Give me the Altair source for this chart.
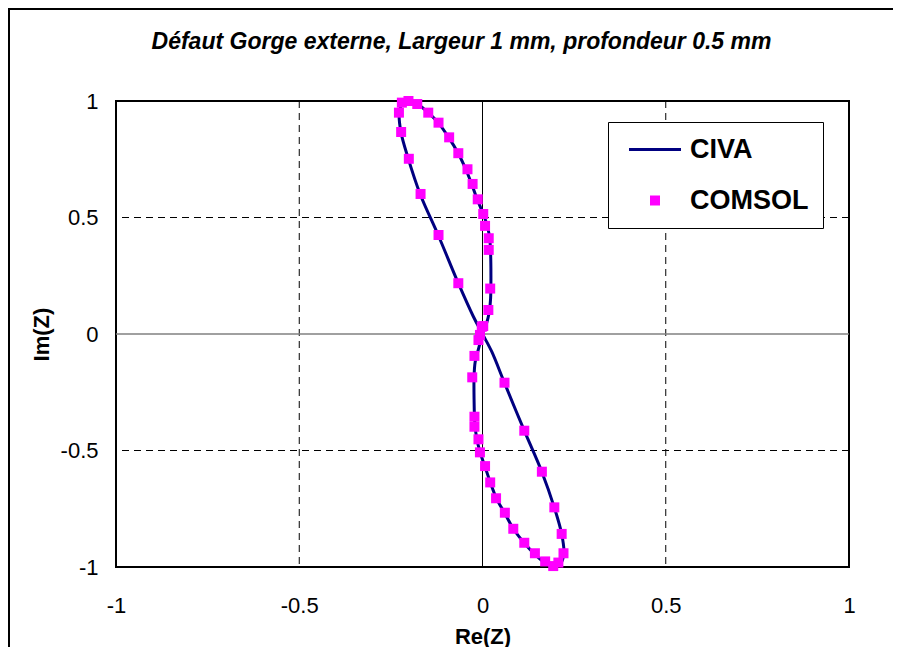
import altair as alt
import pandas as pd

# CIVA curve (ordered along the impedance loop)
civa_re = [0.000, 0.010, 0.018, 0.022, 0.023, 0.022, 0.019, 0.010, -0.002, -0.016,
           -0.030, -0.045, -0.066, -0.092, -0.120, -0.148, -0.176, -0.200, -0.218, -0.227,
           -0.223, -0.203, -0.170, -0.121, -0.066, -0.025, 0.000,
           0.025, 0.060, 0.114, 0.162, 0.196, 0.216, 0.222, 0.213, 0.194, 0.171,
           0.143, 0.114, 0.085, 0.061, 0.038, 0.022, 0.008, -0.005, -0.015, -0.021,
           -0.023, -0.023, -0.020, -0.012, 0.000]
civa_im = [0.000, 0.040, 0.090, 0.150, 0.250, 0.350, 0.420, 0.480, 0.530, 0.585,
           0.645, 0.705, 0.775, 0.843, 0.905, 0.950, 0.985, 1.000, 0.990, 0.950,
           0.870, 0.755, 0.600, 0.425, 0.218, 0.075, 0.000,
           -0.075, -0.210, -0.415, -0.592, -0.745, -0.858, -0.940, -0.985, -0.998, -0.983,
           -0.946, -0.897, -0.838, -0.770, -0.705, -0.640, -0.575, -0.515, -0.455, -0.380,
           -0.280, -0.180, -0.120, -0.070, 0.000]

# COMSOL points
comsol_re = [-0.202, -0.220, -0.178, -0.228, -0.148, -0.120, -0.222, -0.091, -0.066, -0.201,
             -0.041, -0.027, -0.169, -0.013, 0.002, 0.007, -0.120, 0.017, 0.017, -0.066,
             0.021, 0.016, 0.002, -0.007, -0.002, -0.011, -0.022, 0.060, -0.028, -0.022,
             -0.022, 0.114, -0.011, -0.007, 0.007, 0.162, 0.021, 0.037, 0.196, 0.061,
             0.084, 0.216, 0.114, 0.143, 0.221, 0.171, 0.207, 0.193]
comsol_im = [1.000, 0.993, 0.987, 0.950, 0.950, 0.907, 0.867, 0.844, 0.776, 0.752,
             0.707, 0.644, 0.601, 0.578, 0.515, 0.464, 0.425, 0.411, 0.361, 0.218,
             0.195, 0.103, 0.034, -0.004, 0.031, -0.026, -0.094, -0.209, -0.186, -0.355,
             -0.398, -0.415, -0.452, -0.508, -0.567, -0.591, -0.637, -0.705, -0.744, -0.767,
             -0.836, -0.858, -0.896, -0.941, -0.941, -0.976, -0.981, -0.996]

tick_values = [-1, -0.5, 0, 0.5, 1]
grid_values = [-0.5, 0.5]
series_names = ["CIVA", "COMSOL"]
series_colors = ["#000080", "#FF00FF"]

line_df = pd.DataFrame({"re": civa_re, "im": civa_im,
                        "i": list(range(len(civa_re))), "series": "CIVA"})
pts_df = pd.DataFrame({"re": comsol_re, "im": comsol_im, "series": "COMSOL"})
zero_df = pd.DataFrame({"v": [0]})
grid_df = pd.DataFrame({"g": grid_values})

FONT = "Liberation Sans"

xs = alt.Scale(domain=[-1, 1], nice=False, zero=False)
ys = alt.Scale(domain=[-1, 1], nice=False, zero=False)

x_axis = alt.Axis(values=tick_values, title="Re(Z)", grid=False, ticks=False, domain=False,
                  labelFont=FONT, labelFontSize=22, labelColor="black", labelPadding=28,
                  labelFlush=False, labelOverlap=False, labelExpr="'' + datum.value",
                  titleFont=FONT, titleFontSize=22, titleFontWeight="bold", titleColor="black",
                  titleBaseline="alphabetic", titleY=76)
y_axis = alt.Axis(values=tick_values, title="Im(Z)", grid=False, ticks=False, domain=False,
                  labelFont=FONT, labelFontSize=22, labelColor="black", labelPadding=18,
                  labelFlush=False, labelOverlap=False, labelExpr="'' + datum.value",
                  titleFont=FONT, titleFontSize=22, titleFontWeight="bold", titleColor="black",
                  titleBaseline="alphabetic", titleX=-68, titleY=233)

legend = alt.Legend(
    title=None, orient="none", legendX=492, legendY=21,
    fillColor="white", strokeColor="black", padding=14,
    labelFont=FONT, labelFontSize=27, labelFontWeight="bold", labelColor="black",
    symbolSize=49, symbolStrokeWidth=3, symbolOpacity=1,
    symbolOffset=19.5, labelOffset=21.5, rowPadding=23,
    symbolType=alt.ExprRef("datum.value === 'CIVA' ? 'M-7.43,0H7.43' : 'square'"),
    symbolStrokeColor=alt.ExprRef("datum.value === 'CIVA' ? '#000080' : '#FF00FF'"),
)

color = alt.Color("series:N", scale=alt.Scale(domain=series_names, range=series_colors),
                  legend=legend)

base_x = alt.X("re:Q", scale=xs, axis=x_axis)
base_y = alt.Y("im:Q", scale=ys, axis=y_axis)

vgrid = alt.Chart(grid_df).mark_rule(color="black", strokeWidth=1, strokeDash=[7, 5]).encode(
    x=alt.X("g:Q", scale=xs))
hgrid = alt.Chart(grid_df).mark_rule(color="black", strokeWidth=1, strokeDash=[7, 5]).encode(
    y=alt.Y("g:Q", scale=ys))

line = alt.Chart(line_df).mark_line(strokeWidth=3, interpolate="catmull-rom").encode(
    x=base_x, y=base_y, order="i:Q", color=color)

pts = alt.Chart(pts_df).mark_point(shape="square", filled=True, size=100, opacity=1).encode(
    x=base_x, y=base_y, color=color)

vzero = alt.Chart(zero_df).mark_rule(color="black", strokeWidth=1).encode(
    x=alt.X("v:Q", scale=xs))
hzero = alt.Chart(zero_df).mark_rule(color="#808080", strokeWidth=1.5).encode(
    y=alt.Y("v:Q", scale=ys))

frame_left = alt.Chart(zero_df).mark_rule(color="black", strokeWidth=2).encode(
    x=alt.value(-107), y=alt.value(-92), y2=alt.value(560))
frame_top = alt.Chart(zero_df).mark_rule(color="black", strokeWidth=2).encode(
    x=alt.value(-108), x2=alt.value(777), y=alt.value(-92))

chart = alt.layer(vgrid, hgrid, vzero, hzero, line, pts, frame_left, frame_top).properties(
    width=733, height=466,
    background="white",
    autosize=alt.AutoSizeParams(type="none"),
    padding={"left": 108, "top": 93, "right": 44, "bottom": 80},
    title=alt.TitleParams(
        text="Défaut Gorge externe, Largeur 1 mm, profondeur 0.5 mm",
        font=FONT, fontSize=23, fontWeight="bold", fontStyle="italic", color="black",
        anchor="middle", dx=-21, offset=-46),
).configure_view(stroke="black", strokeWidth=2)

chart.save("out.html", embed_options={"renderer": "svg", "actions": False})
